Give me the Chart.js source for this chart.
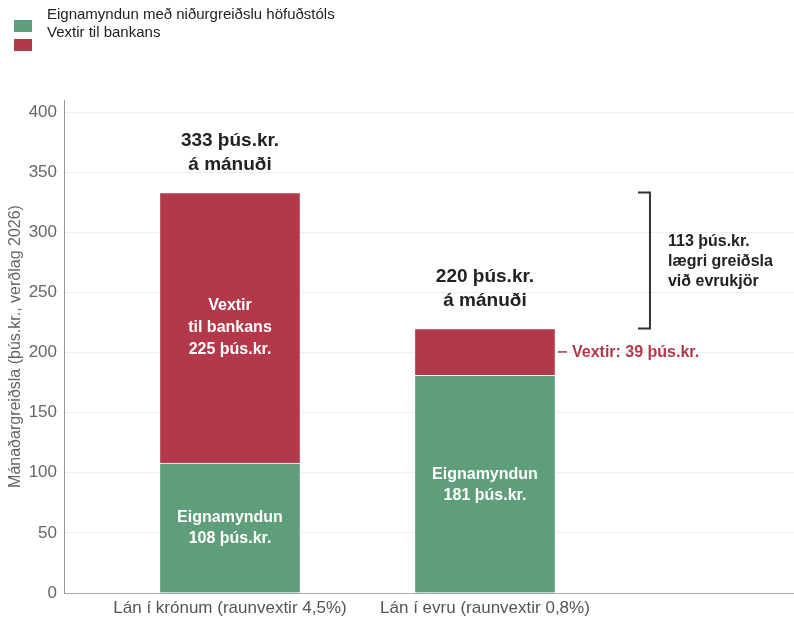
<!DOCTYPE html>
<html>
<head>
<meta charset="utf-8">
<script src="https://cdn.jsdelivr.net/npm/chart.js@4/dist/chart.umd.min.js"></script>
<style>
  html, body { margin: 0; padding: 0; background: #fff; }
  #wrap { width: 794px; height: 622px; }
</style>
</head>
<body>
<div id="wrap"><canvas id="c" width="794" height="622"></canvas></div>
<script>
// Monthly payment split: equity build-up vs. interest paid to the bank
const categories = ['Lán í krónum (raunvextir 4,5%)', 'Lán í evru (raunvextir 0,8%)'];
const equityValues = [108, 181];
const interestValues = [225, 39];
const seriesNames = ['Eignamyndun með niðurgreiðslu höfuðstóls', 'Vextir til bankans'];
const yTicks = [0, 50, 100, 150, 200, 250, 300, 350, 400];
const unit = 'þús.kr.';
const yTitle = 'Mánaðargreiðsla (þús.kr., verðlag 2026)';

const GREEN = '#5f9e7b';
const RED = '#b33849';
const FONT = '"Liberation Sans", Arial, Helvetica, sans-serif';

const totals = categories.map((_, i) => equityValues[i] + interestValues[i]);

// Legend, value labels and the difference bracket
const annotate = {
  id: 'annotate',
  afterDraw(chart) {
    const { ctx, scales: { x, y } } = chart;
    ctx.save();

    // legend
    const colors = chart.data.datasets.map(d => d.backgroundColor);
    ctx.fillStyle = colors[0]; ctx.fillRect(14, 20, 18, 12);
    ctx.fillStyle = colors[1]; ctx.fillRect(14, 39, 18, 12);
    ctx.fillStyle = '#222';
    ctx.font = '15px ' + FONT;
    ctx.textAlign = 'left'; ctx.textBaseline = 'middle';
    ctx.fillText(chart.data.datasets[0].label, 47, 15);
    ctx.fillText(chart.data.datasets[1].label, 47, 33);

    const half = 70;
    ctx.textAlign = 'center';
    categories.forEach((c, i) => {
      const cx = x.getPixelForValue(i);
      const top = y.getPixelForValue(totals[i]);

      // total above the bar
      ctx.fillStyle = '#222';
      ctx.font = 'bold 19px ' + FONT;
      ctx.fillText(`${totals[i]} ${unit}`, cx, top - 52);
      ctx.fillText('á mánuði', cx, top - 28);

      // equity segment label
      const gMid = (y.getPixelForValue(0) + y.getPixelForValue(equityValues[i])) / 2;
      ctx.fillStyle = '#fff';
      ctx.font = 'bold 16px ' + FONT;
      ctx.fillText('Eignamyndun', cx, gMid - 10);
      ctx.fillText(`${equityValues[i]} ${unit}`, cx, gMid + 11);

      // interest segment label (inside if tall enough, otherwise beside)
      const r0 = y.getPixelForValue(equityValues[i]);
      const r1 = y.getPixelForValue(totals[i]);
      const rMid = (r0 + r1) / 2;
      if (r0 - r1 > 80) {
        ctx.fillStyle = '#fff';
        ctx.fillText('Vextir', cx, rMid - 22);
        ctx.fillText('til bankans', cx, rMid);
        ctx.fillText(`${interestValues[i]} ${unit}`, cx, rMid + 22);
      } else {
        ctx.strokeStyle = RED; ctx.lineWidth = 1.5;
        ctx.beginPath();
        ctx.moveTo(cx + half + 3, rMid); ctx.lineTo(cx + half + 12, rMid);
        ctx.stroke();
        ctx.fillStyle = RED;
        ctx.textAlign = 'left';
        ctx.fillText(`Vextir: ${interestValues[i]} ${unit}`, cx + half + 17, rMid + 1);
        ctx.textAlign = 'center';
      }
    });

    // bracket showing the payment difference
    const bx = x.getPixelForValue(1) + half + 95;
    const yTop = y.getPixelForValue(totals[0]);
    const yBot = y.getPixelForValue(totals[1]);
    ctx.strokeStyle = '#333'; ctx.lineWidth = 2;
    ctx.beginPath();
    ctx.moveTo(bx - 12, yTop); ctx.lineTo(bx, yTop);
    ctx.lineTo(bx, yBot); ctx.lineTo(bx - 12, yBot);
    ctx.stroke();
    const mid = (yTop + yBot) / 2;
    ctx.fillStyle = '#222';
    ctx.font = 'bold 16px ' + FONT;
    ctx.textAlign = 'left';
    ctx.fillText(`${totals[0] - totals[1]} ${unit}`, bx + 18, mid - 19);
    ctx.fillText('lægri greiðsla', bx + 18, mid + 1);
    ctx.fillText('við evrukjör', bx + 18, mid + 21);

    ctx.restore();
  }
};

new Chart(document.getElementById('c'), {
  type: 'bar',
  data: {
    datasets: [
      {
        label: seriesNames[0],
        data: equityValues.map((v, i) => ({ x: i, y: v })),
        backgroundColor: GREEN,
        borderColor: '#fff',
        borderWidth: 1,
        barThickness: 141
      },
      {
        label: seriesNames[1],
        data: interestValues.map((v, i) => ({ x: i, y: v })),
        backgroundColor: RED,
        borderColor: '#fff',
        borderWidth: 1,
        barThickness: 141
      }
    ]
  },
  options: {
    responsive: false,
    animation: false,
    layout: { padding: { top: 100, right: 0, bottom: 0, left: 0 } },
    plugins: {
      legend: { display: false },
      tooltip: { enabled: false }
    },
    scales: {
      x: {
        type: 'linear',
        stacked: true,
        offset: false,
        min: -0.651,
        max: 2.212,
        grid: { display: false, drawTicks: false, offset: false },
        border: { color: '#aaa', width: 1 },
        afterBuildTicks(axis) { axis.ticks = categories.map((_, i) => ({ value: i })); },
        afterFit(axis) { axis.height = 29; },
        ticks: {
          callback: v => categories[v],
          color: '#555',
          font: { family: FONT, size: 17 },
          padding: 5,
          maxRotation: 0,
          autoSkip: false
        }
      },
      y: {
        stacked: true,
        min: 0,
        max: 410,
        afterBuildTicks(axis) { axis.ticks = yTicks.map(v => ({ value: v })); },
        afterFit(axis) { axis.width = 64; },
        grid: { color: '#eeeeee', drawTicks: false },
        border: { color: '#999', width: 1 },
        ticks: {
          color: '#666',
          font: { family: FONT, size: 17 },
          padding: 7
        },
        title: {
          display: true,
          text: yTitle,
          color: '#666',
          font: { family: FONT, size: 16 },
          padding: { top: 6, bottom: 0 }
        }
      }
    }
  },
  plugins: [annotate]
});
</script>
</body>
</html>
